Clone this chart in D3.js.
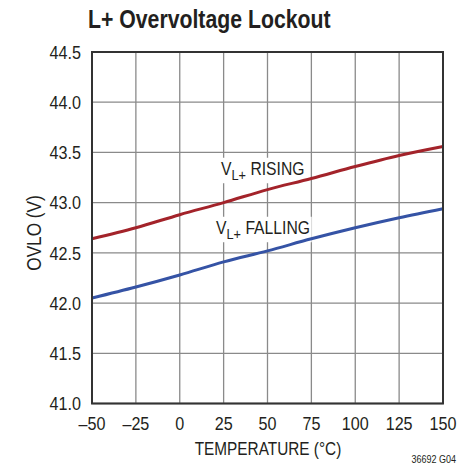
<!DOCTYPE html>
<html><head><meta charset="utf-8">
<script src="https://cdn.jsdelivr.net/npm/d3@7"></script>
<style>
html,body{margin:0;padding:0;background:#fff;}
svg{display:block;}
text{font-family:"Liberation Sans",Arial,sans-serif;fill:#231f20;}
</style></head>
<body>
<svg id="c" width="459" height="469"></svg>
<script>
const temperature = [-50, -25, 0, 25, 50, 75, 100, 125, 150];
const rising = [42.64, 42.75, 42.88, 43.0, 43.13, 43.24, 43.36, 43.47, 43.56];
const falling = [42.05, 42.16, 42.28, 42.41, 42.52, 42.64, 42.75, 42.85, 42.94];
const xTicks = [-50, -25, 0, 25, 50, 75, 100, 125, 150];
const yTicks = [41.0, 41.5, 42.0, 42.5, 43.0, 43.5, 44.0, 44.5];

const SX = 0.85; // condensed look
const svg = d3.select("#c");
const L = 92, R = 443, T = 52, B = 403.5;
const x = d3.scaleLinear().domain([-50, 150]).range([L, R]);
const y = d3.scaleLinear().domain([41, 44.5]).range([B, T]);

function txt(parent, xp, yp, s, size, anchor, sx, rot) {
  return parent.append("text")
    .attr("transform", `translate(${xp},${yp})` + (rot ? ` rotate(${rot})` : "") + ` scale(${sx || SX},1)`)
    .attr("font-size", size).attr("text-anchor", anchor || "start").text(s);
}

// grid
const g = svg.append("g");
g.selectAll(".vg").data(xTicks).enter().append("line")
  .attr("x1", d => x(d)).attr("x2", d => x(d)).attr("y1", T).attr("y2", B)
  .attr("stroke", "#8a8a8a").attr("stroke-width", 1.3);
g.selectAll(".hg").data(yTicks).enter().append("line")
  .attr("y1", d => y(d)).attr("y2", d => y(d)).attr("x1", L).attr("x2", R)
  .attr("stroke", "#8a8a8a").attr("stroke-width", 1.3);

const bgLayer = svg.append("g");
const lineLayer = svg.append("g");
const labelLayer = svg.append("g");

// series
const line = d3.line().x((d, i) => x(temperature[i])).y(d => y(d)).curve(d3.curveMonotoneX);
lineLayer.append("path").attr("d", line(rising)).attr("fill", "none").attr("stroke", "#a3232a").attr("stroke-width", 3);
lineLayer.append("path").attr("d", line(falling)).attr("fill", "none").attr("stroke", "#3553a5").attr("stroke-width", 3);

// labels with white background
function label(xp, yp, main) {
  const t = labelLayer.append("text").attr("transform", `translate(${xp},${yp}) scale(${SX},1)`).attr("font-size", 18.5);
  t.append("tspan").text("V");
  t.append("tspan").attr("dy", 5).attr("font-size", 15).text("L+");
  t.append("tspan").attr("dy", -5).text(" " + main);
  const bb = t.node().getBBox();
  bgLayer.append("rect").attr("x", xp + (bb.x - 2) * SX).attr("y", yp + bb.y).attr("width", (bb.width + 4) * SX).attr("height", bb.height)
    .attr("fill", "#fff");
}
label(221, 175, "RISING");
label(216, 234, "FALLING");

// frame
svg.append("rect").attr("x", L).attr("y", T).attr("width", R - L).attr("height", B - T)
  .attr("fill", "none").attr("stroke", "#333").attr("stroke-width", 2);

// y tick labels
yTicks.forEach(d => txt(svg, 81, y(d) + 6.8, d.toFixed(1), 19, "end"));
// x tick labels
xTicks.forEach(d => txt(svg, x(d), 430, d < 0 ? "\u2013" + Math.abs(d) : String(d), 19, "middle"));

// axis titles
txt(svg, 268, 455, "TEMPERATURE (°C)", 18.5, "middle", 0.83);
txt(svg, 41, 233, "OVLO (V)", 20, "middle", 0.86, -90);
// title
txt(svg, 88, 28, "L+ Overvoltage Lockout", 25, "start", 0.85).attr("font-weight", "bold");
txt(svg, 456, 463, "36692 G04", 11, "end", 0.82);
</script>
</body></html>
